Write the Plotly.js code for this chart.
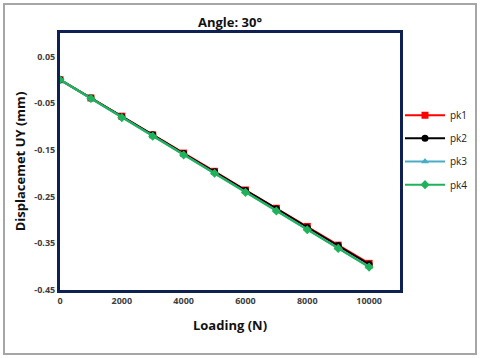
<!DOCTYPE html>
<html>
<head>
<meta charset="utf-8">
<script src="https://cdn.plot.ly/plotly-3.0.1.min.js"></script>
<style>
  html, body { margin: 0; padding: 0; background: #fff; }
  #wrap { position: relative; width: 480px; height: 358px; }
  #chart { width: 480px; height: 358px; }
  /* light grey frame around the whole picture */
  #frame { position: absolute; left: 3px; top: 3px; width: 470px; height: 348px;
           border: 2px solid #a6a6a6; pointer-events: none; }
</style>
</head>
<body>
<div id="wrap">
  <div id="chart"></div>
  <div id="frame"></div>
</div>
<script>
/* ---- data ---- */
const loading = [0, 1000, 2000, 3000, 4000, 5000, 6000, 7000, 8000, 9000, 10000];
const pk1 = [0, -0.039, -0.078, -0.118, -0.157, -0.196, -0.236, -0.275, -0.314, -0.354, -0.393];
const pk2 = [0, -0.039, -0.079, -0.118, -0.158, -0.197, -0.237, -0.276, -0.316, -0.355, -0.395];
const pk3 = [0, -0.040, -0.080, -0.120, -0.160, -0.200, -0.240, -0.280, -0.320, -0.360, -0.400];
const pk4 = [0, -0.040, -0.081, -0.121, -0.161, -0.200, -0.241, -0.281, -0.321, -0.361, -0.401];

const seriesNames = ['pk1', 'pk2', 'pk3', 'pk4'];
const seriesData = [pk1, pk2, pk3, pk4];
const xTicks = [0, 2000, 4000, 6000, 8000, 10000];
const yTicks = [-0.45, -0.35, -0.25, -0.15, -0.05, 0.05];

/* ---- styles ---- */
const COLORS = { pk1: '#ff0000', pk2: '#000000', pk3: '#4bacc6', pk4: '#1fb25a' };
const SYMBOLS = { pk1: 'square', pk2: 'circle', pk3: 'triangle-up', pk4: 'diamond' };
const FONT = 'Open Sans, Noto Sans, sans-serif';
const AXIS_COLOR = '#0f2152';
// one legend per series so the rows can be spaced like the original
const LEGEND_Y = [0.68, 0.59, 0.50, 0.41];

const traces = seriesNames.map((name, i) => ({
  x: loading,
  y: seriesData[i],
  type: 'scatter',
  mode: 'lines+markers',
  name: name,
  legend: i === 0 ? 'legend' : 'legend' + (i + 1),
  line: { color: COLORS[name], width: 2 },
  marker: { color: COLORS[name], symbol: SYMBOLS[name], size: 7 },
}));

const legendBase = {
  x: 1.0, xanchor: 'left', yanchor: 'middle',
  font: { family: FONT, size: 10, color: '#222' },
  bgcolor: 'rgba(0,0,0,0)',
  itemwidth: 40,
};

const layout = {
  width: 480,
  height: 358,
  paper_bgcolor: '#fff',
  plot_bgcolor: '#fff',
  font: { family: FONT, size: 9, color: '#404040' },
  margin: { l: 60, r: 80, t: 33, b: 68, autoexpand: false },
  title: {
    text: '<b>Angle: 30°</b>',
    font: { family: FONT, size: 13, color: '#111' },
    x: 0.5, xref: 'paper', xanchor: 'center',
    y: 0.95, yref: 'container', yanchor: 'top',
  },
  xaxis: {
    range: [0, 11000],
    tickvals: xTicks,
    ticktext: xTicks.map(v => '<b>' + v + '</b>'),
    showgrid: false, zeroline: false,
    showline: true, mirror: true, linecolor: AXIS_COLOR, linewidth: 3,
    ticks: '', ticklen: 0,
    tickfont: { family: FONT, size: 9, color: '#404040' },
    title: { text: '<b>Loading (N)</b>', font: { family: FONT, size: 13, color: '#111' }, standoff: 16 },
  },
  yaxis: {
    range: [-0.45, 0.1],
    tickvals: yTicks,
    ticktext: yTicks.map(v => '<b>' + v.toFixed(2) + '</b>'),
    showgrid: false, zeroline: false,
    showline: true, mirror: true, linecolor: AXIS_COLOR, linewidth: 3,
    ticks: '', ticklen: 0,
    tickfont: { family: FONT, size: 9, color: '#404040' },
    title: { text: '<b>Displacemet UY (mm)</b>', font: { family: FONT, size: 13, color: '#111' }, standoff: 6 },
  },
  legend:  { ...legendBase, y: LEGEND_Y[0] },
  legend2: { ...legendBase, y: LEGEND_Y[1] },
  legend3: { ...legendBase, y: LEGEND_Y[2] },
  legend4: { ...legendBase, y: LEGEND_Y[3] },
  showlegend: true,
};

Plotly.newPlot('chart', traces, layout, { displayModeBar: false, staticPlot: true });
</script>
</body>
</html>
